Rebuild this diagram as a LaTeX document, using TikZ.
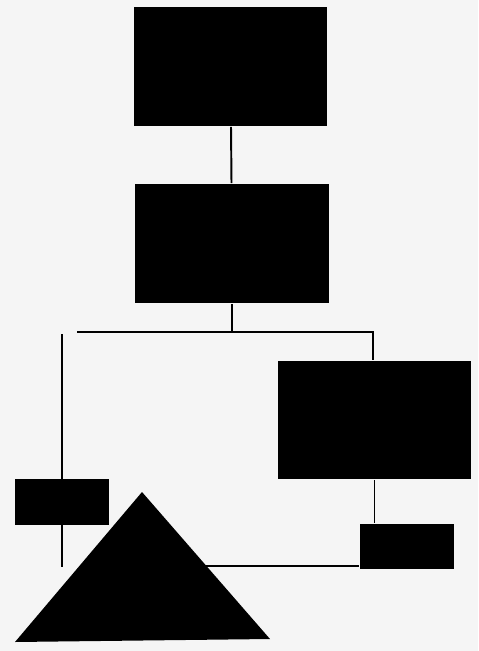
\documentclass[tikz,border=0pt]{standalone}
\usepackage{tikz}
\usepackage{xcolor}
\usetikzlibrary{calc}
\definecolor{paper}{RGB}{245, 245, 245}

\begin{document}
\begin{tikzpicture}[
    x=0.02cm, y=-0.02cm,
    block/.style={rectangle, fill=black, inner sep=0pt, minimum width=#1},
    block/.default=3.86cm,
    line width=1.1pt
]

    % ==========================================
    % PAGE
    % ==========================================
    \fill[paper] (0, 0) rectangle (478, 651);
    \useasboundingbox (0, 0) rectangle (478, 651);

    % ==========================================
    % COORDINATES
    % ==========================================
    % Bus under the second box
    \coordinate (bus_l) at (77, 332);
    \coordinate (bus_r) at (373, 332);

    % Left riser
    \coordinate (riser_top) at (62, 334);
    \coordinate (riser_bot) at (62, 567);

    % Triangle corners
    \coordinate (tri_apex) at (142, 492);
    \coordinate (tri_bl) at (15, 642);
    \coordinate (tri_br) at (270, 639);
    \coordinate (tri_edge) at ($(tri_apex)!0.503!(tri_br)$);

    % ==========================================
    % BLOCKS
    % ==========================================
    \node[block, minimum height=2.38cm] (top) at (230.5, 66.5) {};
    \node[block=3.88cm, minimum height=2.38cm] (mid) at (232, 243.5) {};
    \node[block, minimum height=2.36cm] (side) at (374.5, 420) {};

    % ==========================================
    % CONNECTORS
    % ==========================================
    \draw (top) -- (mid);
    \draw (mid.south) -- (mid.south |- bus_l);
    \draw (bus_l) -- (bus_r) -- (bus_r |- side.north);
    \draw (riser_top) -- (riser_bot);

    % ==========================================
    % SMALL BLOCKS & TRIANGLE
    % ==========================================
    \node[block=1.88cm, minimum height=0.92cm] (tag_l) at (62, 502) {};
    \node[block=1.88cm, minimum height=0.90cm] (tag_r) at (407, 546) {};

    \draw (side.south) -- (side.south |- tag_r.north);
    \draw (tri_edge) -- (tri_edge -| tag_r.west);

    \fill[black] (tri_apex) -- (tri_br) -- (tri_bl) -- cycle;

\end{tikzpicture}
\end{document}
